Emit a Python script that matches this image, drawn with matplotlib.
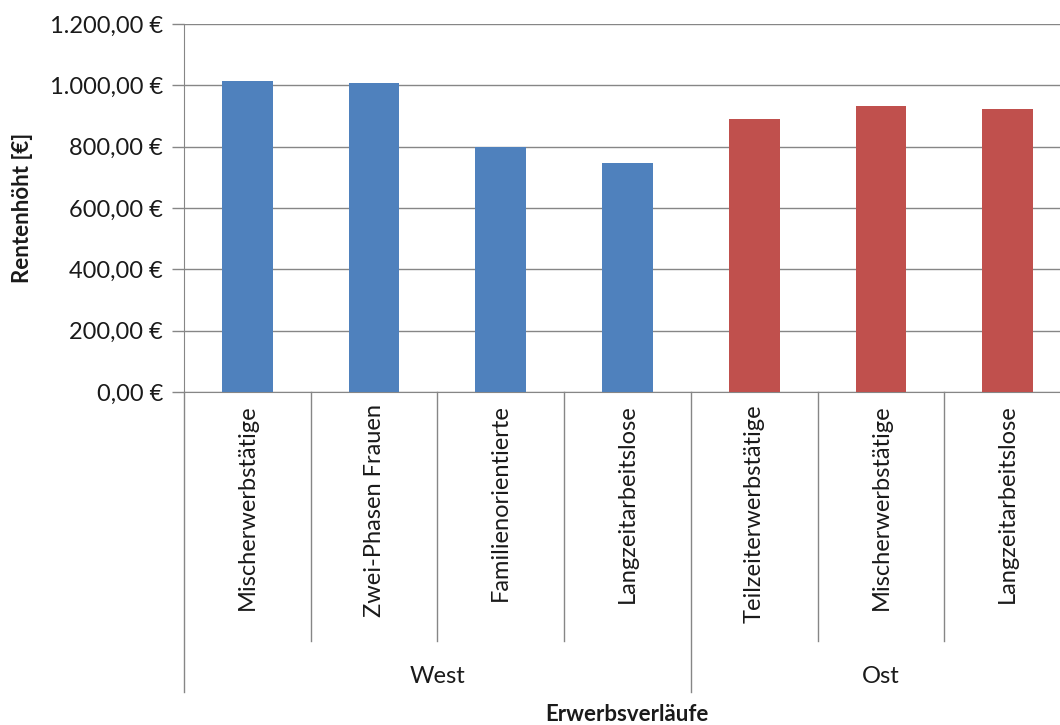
import matplotlib
matplotlib.use('Agg')
from matplotlib import pyplot as plt
from matplotlib.ticker import FuncFormatter
import matplotlib.transforms as mtransforms

# Daten
kategorien = ['Mischerwerbstätige', 'Zwei-Phasen Frauen', 'Familienorientierte',
              'Langzeitarbeitslose', 'Teilzeiterwerbstätige', 'Mischerwerbstätige',
              'Langzeitarbeitslose']
gruppen = ['West', 'Ost']
gruppen_anzahl = [4, 3]
renten = [1014, 1006, 799, 748, 890, 932, 922]
farben_gruppe = ['#4F81BD', '#C0504D']

plt.rcParams['font.family'] = ['Lato', 'DejaVu Sans']
grau = '#868686'
text_farbe = '#1a1a1a'

fig = plt.figure(figsize=(10.6, 7.25), dpi=100)
ax = fig.add_axes([184 / 1060, 333 / 725, 887 / 1060, 368 / 725])

farben = []
for f, n in zip(farben_gruppe, gruppen_anzahl):
    farben += [f] * n
x = list(range(len(kategorien)))
ax.bar(x, renten, width=0.4, color=farben, zorder=3)

ax.set_xlim(-0.5, len(kategorien) - 0.5)
ax.set_ylim(0, 1200)
ax.set_yticks(range(0, 1201, 200))


def euro(v, pos):
    s = '{:,.2f}'.format(v).replace(',', 'X').replace('.', ',').replace('X', '.')
    return s + ' €'


ax.yaxis.set_major_formatter(FuncFormatter(euro))
ax.tick_params(axis='y', labelsize=17, colors=grau, labelcolor=text_farbe,
               length=9, width=1, pad=6)
ax.tick_params(axis='x', bottom=False, labelbottom=False)
ax.grid(axis='y', color=grau, linewidth=1, zorder=0)
for s in ['top', 'right']:
    ax.spines[s].set_visible(False)
ax.spines['left'].set_color(grau)
ax.spines['bottom'].set_color(grau)

trans = mtransforms.blended_transform_factory(ax.transData, ax.transAxes)

# Kategorie-Beschriftungen und Trennlinien
for i, k in enumerate(kategorien):
    ax.text(i, -0.033, k, rotation=90, ha='center', va='top', fontsize=17,
            color=text_farbe, transform=trans)

grenzen = [0]
for n in gruppen_anzahl:
    grenzen.append(grenzen[-1] + n)
for i in range(len(kategorien) + 1):
    unten = -0.815 if i in grenzen else -0.676
    ax.plot([i - 0.5, i - 0.5], [0, unten], color=grau, linewidth=1,
            transform=trans, clip_on=False)

for g, a, b in zip(gruppen, grenzen[:-1], grenzen[1:]):
    ax.text((a + b - 1) / 2, -0.773, g, ha='center', va='center', fontsize=17,
            color=text_farbe, transform=trans)

ax.text((627 - 184) / 887, -0.877, 'Erwerbsverläufe',
        ha='center', va='center', fontsize=16, fontweight='bold',
        color=text_farbe, transform=ax.transAxes)
ax.set_ylabel('Rentenhöht [€]', fontsize=16, fontweight='bold', color=text_farbe)
ax.yaxis.set_label_coords((33 - 184) / 887, 0.5)

fig.savefig('out.png', dpi=100)
